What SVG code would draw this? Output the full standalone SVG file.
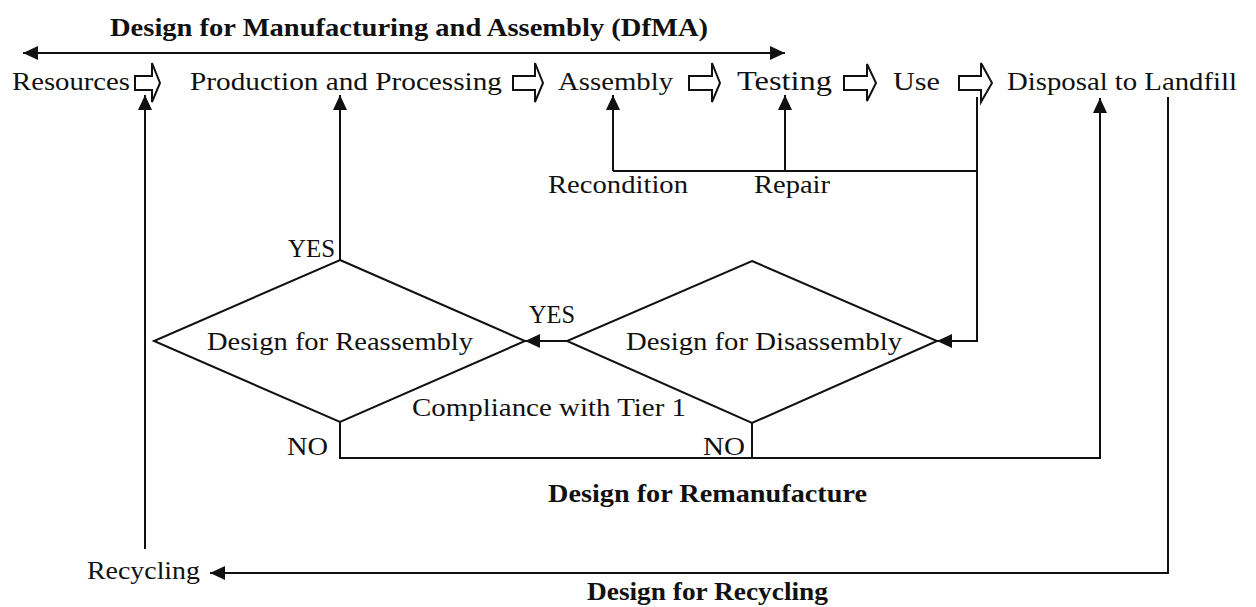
<svg xmlns="http://www.w3.org/2000/svg" width="1256" height="607" viewBox="0 0 1256 607">
  <style>
    text { font-family: "Liberation Serif", "Times New Roman", serif; fill: #111; }
    .stage { font-size: 26px; }
    .lbl { font-size: 25px; }
    .title { font-size: 26px; font-weight: bold; }
    .wire { fill: none; stroke: #111; stroke-width: 2; }
    .flow { fill: none; stroke: #111; stroke-width: 2; marker-end: url(#head); }
    .diamond { fill: #fff; stroke: #111; stroke-width: 2; stroke-linejoin: miter; }
    .block { fill: #fff; stroke: #111; stroke-width: 2; stroke-linejoin: miter; }
  </style>
  <defs>
    <marker id="head" markerUnits="userSpaceOnUse" markerWidth="15" markerHeight="14" refX="15" refY="7" orient="auto-start-reverse">
      <path d="M0,0 L15,7 L0,14 Z" fill="#111"/>
    </marker>
  </defs>
  <rect width="1256" height="607" fill="#fff"/>

  <!-- scope bands -->
  <g id="dfma">
    <text class="title" x="110" y="36" textLength="598" lengthAdjust="spacingAndGlyphs">Design for Manufacturing and Assembly (DfMA)</text>
  </g>
  <g id="remanufacture">
    <text class="title" x="548" y="502" textLength="319" lengthAdjust="spacingAndGlyphs">Design for Remanufacture</text>
  </g>
  <g id="recycling-design">
    <text class="title" x="587" y="600" textLength="241" lengthAdjust="spacingAndGlyphs">Design for Recycling</text>
  </g>

  <!-- life-cycle stages -->
  <g id="resources">
    <text class="stage" x="12" y="90" textLength="118" lengthAdjust="spacingAndGlyphs">Resources</text>
    <path class="block" d="M135,76 H152 V63 L160,83 L152,102 V90 H135 Z"/>
  </g>
  <g id="production">
    <text class="stage" x="190" y="90" textLength="312" lengthAdjust="spacingAndGlyphs">Production and Processing</text>
    <path class="block" d="M513,76 H535 V63 L543,83 L535,102 V90 H513 Z"/>
  </g>
  <g id="assembly">
    <text class="stage" x="558" y="90" textLength="115" lengthAdjust="spacingAndGlyphs">Assembly</text>
    <path class="block" d="M689,76 H712 V63 L720,83 L712,102 V90 H689 Z"/>
  </g>
  <g id="testing">
    <text class="stage" x="737" y="90" textLength="95" lengthAdjust="spacingAndGlyphs" style="font-size:28px">Testing</text>
    <path class="block" d="M844,76 H867 V64 L876,83 L867,101 V90 H844 Z"/>
  </g>
  <g id="use">
    <text class="stage" x="893" y="90" textLength="47" lengthAdjust="spacingAndGlyphs">Use</text>
    <path class="block" d="M959,76 H981 V63 L992,83 L981,102 V90 H959 Z"/>
  </g>
  <g id="landfill">
    <text class="stage" x="1007" y="90" textLength="230" lengthAdjust="spacingAndGlyphs">Disposal to Landfill</text>
  </g>
  <g id="recondition">
    <text class="lbl" x="548" y="193" textLength="140" lengthAdjust="spacingAndGlyphs">Recondition</text>
  </g>
  <g id="repair">
    <text class="lbl" x="754" y="193" textLength="76" lengthAdjust="spacingAndGlyphs">Repair</text>
  </g>
  <g id="recycling">
    <text class="stage" x="87" y="579" textLength="113" lengthAdjust="spacingAndGlyphs">Recycling</text>
  </g>

  <!-- decisions -->
  <g id="reassembly">
    <path class="diamond" d="M340,260 L525,341 L340,422 L154,341 Z"/>
    <text class="lbl" x="207" y="350" textLength="266" lengthAdjust="spacingAndGlyphs">Design for Reassembly</text>
  </g>
  <g id="disassembly">
    <path class="diamond" d="M752,261 L937,341 L752,423 L567,341 Z"/>
    <text class="lbl" x="626" y="350" textLength="276" lengthAdjust="spacingAndGlyphs">Design for Disassembly</text>
  </g>

  <!-- connectors -->
  <g id="connectors">
    <path class="wire" d="M23,53 H785" marker-start="url(#head)" marker-end="url(#head)"/>
    <!-- recondition / repair loop from use -->
    <path class="wire" d="M613,171 H977"/>
    <path class="flow" d="M613,171 V95"/>
    <path class="flow" d="M785,171 V95"/>
    <path class="flow" d="M977,97 V341 H937"/>
    <!-- disassembly yes to reassembly -->
    <path class="flow" d="M567,341 H525"/>
    <!-- reassembly yes back into production -->
    <path class="flow" d="M340,260 V95"/>
    <!-- no branches to landfill -->
    <path class="wire" d="M752,423 V458"/>
    <path class="flow" d="M340,422 V458 H1100 V98"/>
    <!-- landfill to recycling, back to resources -->
    <path class="flow" d="M1168,97 V573 H210"/>
    <path class="flow" d="M145,549 V95"/>
  </g>

  <!-- branch labels -->
  <g id="branch-labels">
    <text class="lbl" x="288" y="257" textLength="47" lengthAdjust="spacingAndGlyphs">YES</text>
    <text class="lbl" x="529" y="323" textLength="46" lengthAdjust="spacingAndGlyphs">YES</text>
    <text class="lbl" x="412" y="416" textLength="274" lengthAdjust="spacingAndGlyphs">Compliance with Tier 1</text>
    <text class="lbl" x="287" y="455" textLength="41" lengthAdjust="spacingAndGlyphs">NO</text>
    <text class="lbl" x="703" y="455" textLength="42" lengthAdjust="spacingAndGlyphs">NO</text>
  </g>
</svg>
